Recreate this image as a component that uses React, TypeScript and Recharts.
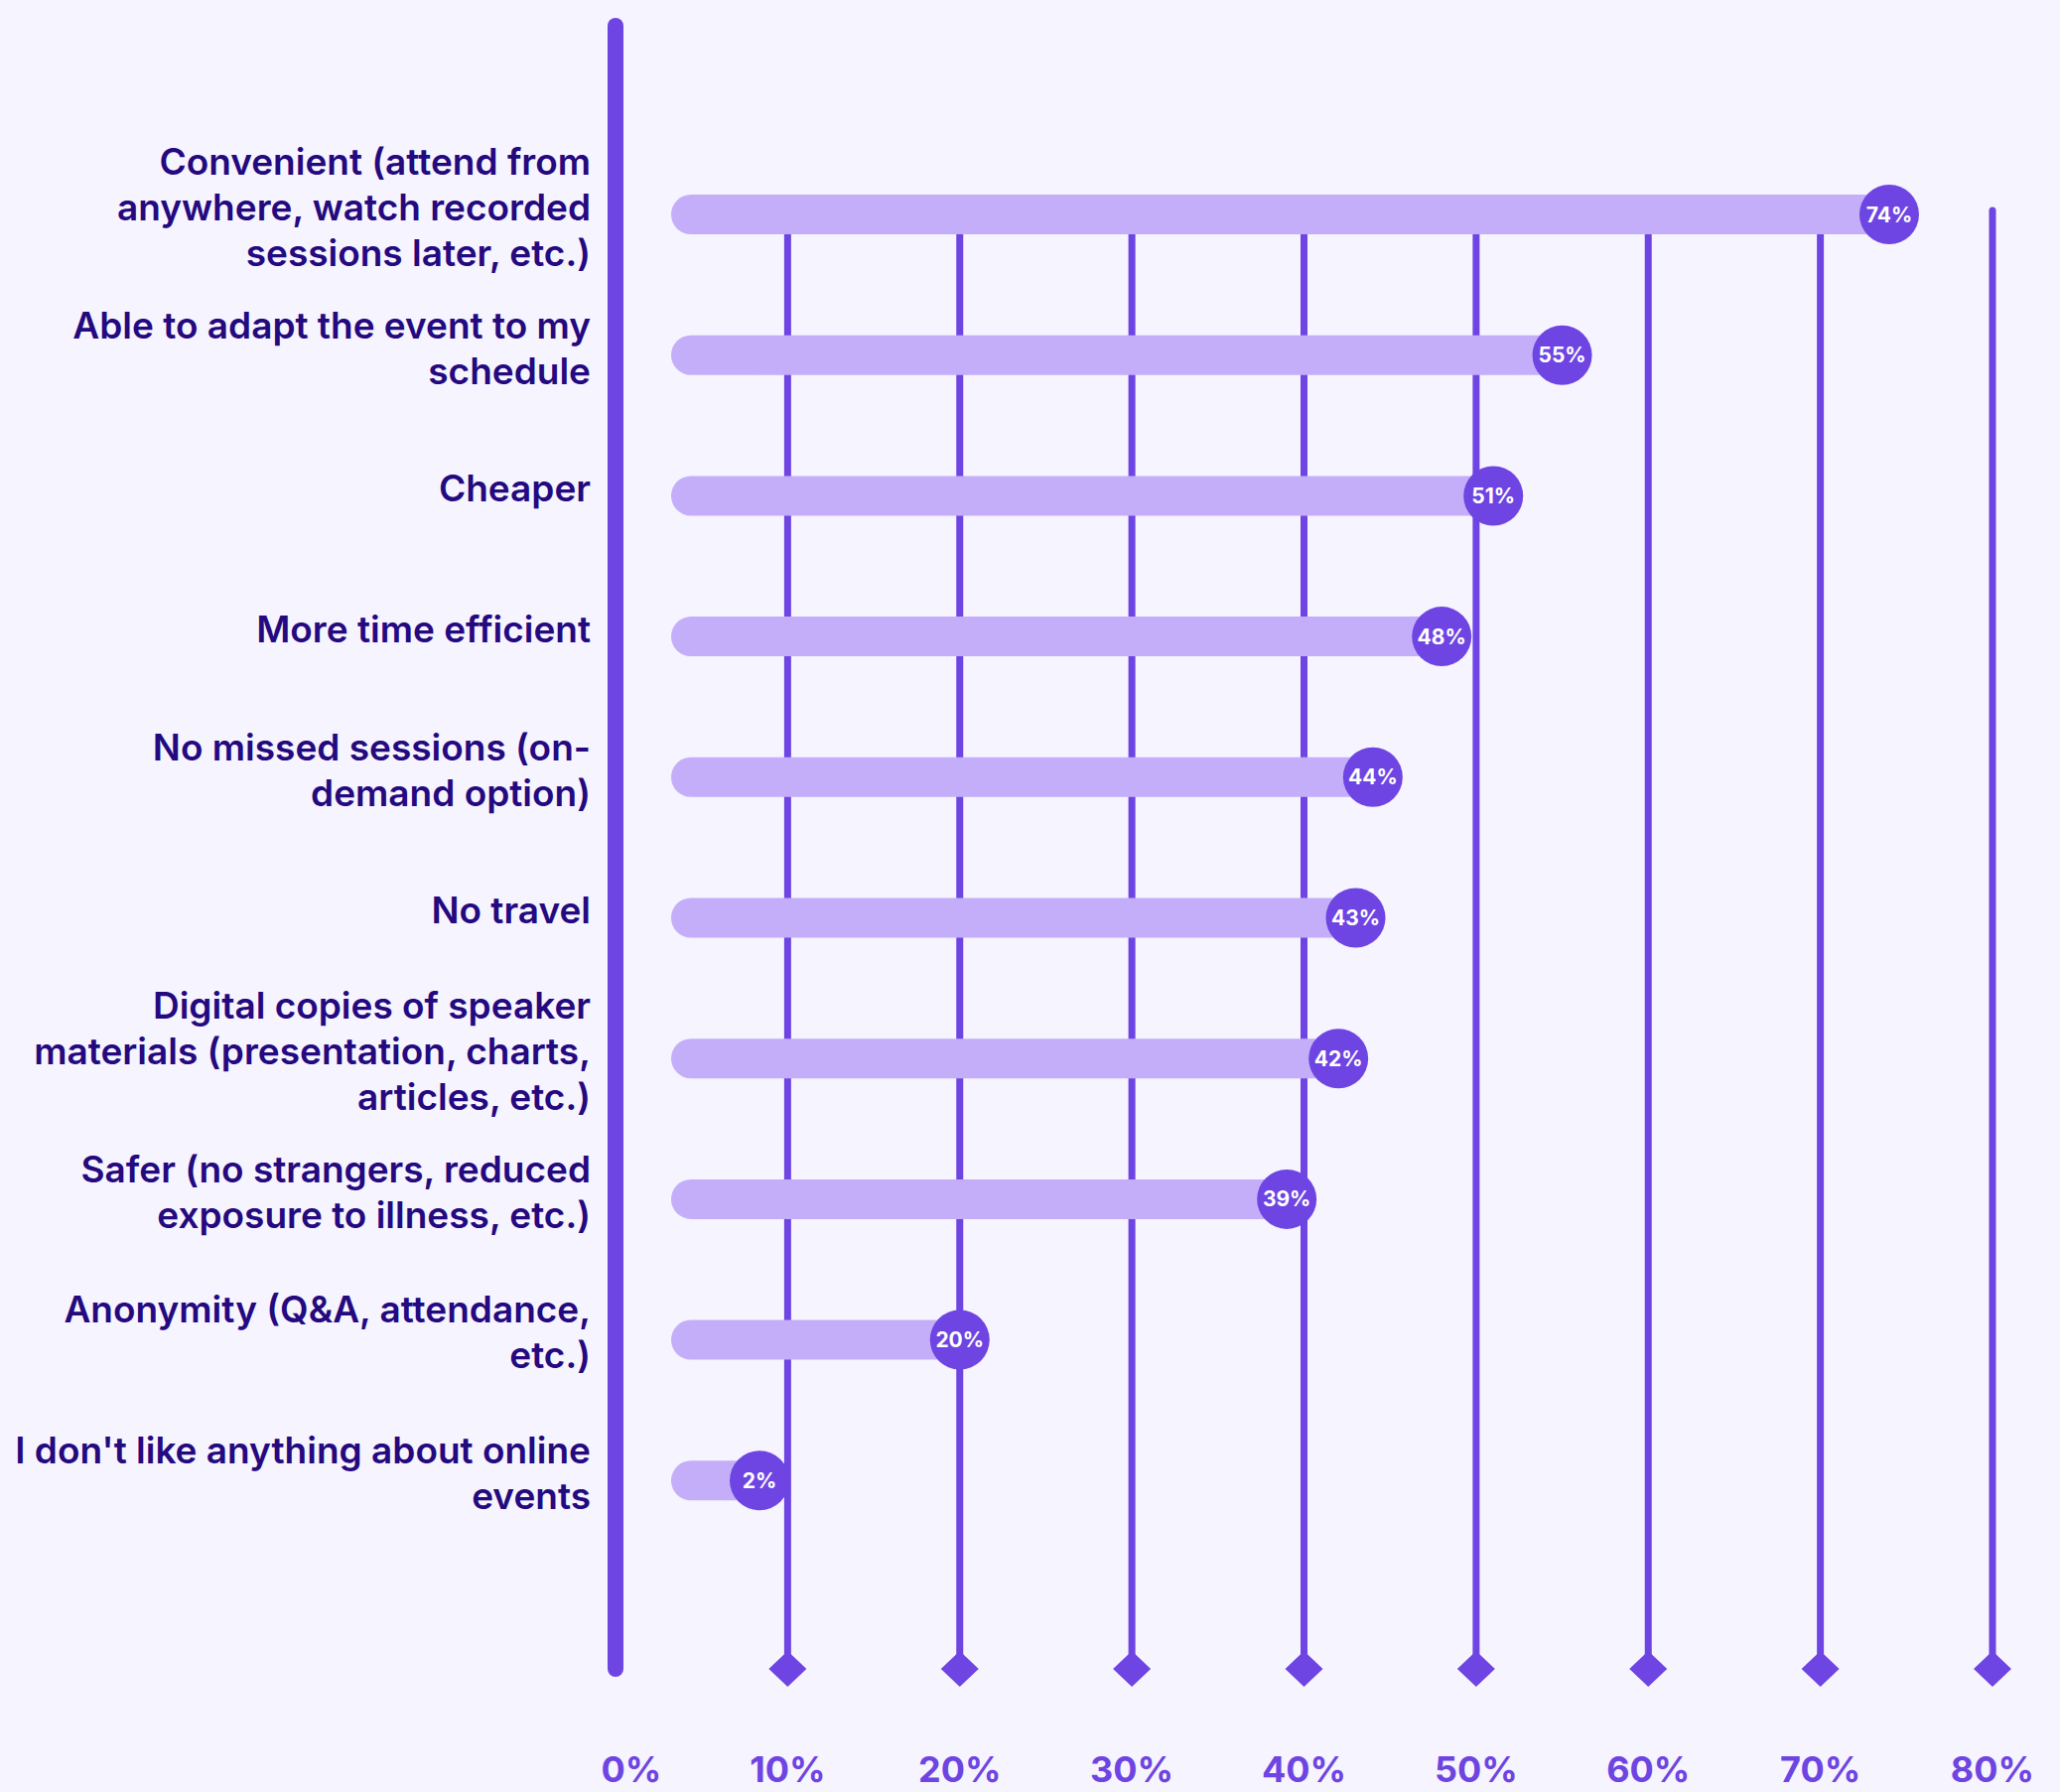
import { BarChart, Bar, XAxis, YAxis, CartesianGrid } from 'recharts'

const categories = [
  'Convenient (attend from\nanywhere, watch recorded\nsessions later, etc.)',
  'Able to adapt the event to my\nschedule',
  'Cheaper',
  'More time efficient',
  'No missed sessions (on-\ndemand option)',
  'No travel',
  'Digital copies of speaker\nmaterials (presentation, charts,\narticles, etc.)',
  'Safer (no strangers, reduced\nexposure to illness, etc.)',
  'Anonymity (Q&A, attendance,\netc.)',
  "I don't like anything about online\nevents",
]
const values = [74, 55, 51, 48, 44, 43, 42, 39, 20, 2]
const xTicks = [0, 10, 20, 30, 40, 50, 60, 70, 80]
const rowTicks = categories.map((_, i) => i)

const data = categories.map((label, idx) => ({ idx, label, value: values[idx] }))

const PURPLE = '#6E44E2'
const LIGHT = '#C4AEFA'
const NAVY = '#24097F'
const BG = '#F6F4FF'
const FONT = 'Inter, "Noto Sans", sans-serif'

function CategoryTick(props: any) {
  const { x, y, payload } = props
  const lines = categories[payload.value].split('\n')
  const lh = 46
  const top = y - 8 - ((lines.length - 1) * lh) / 2
  return (
    <text textAnchor="end" fill={NAVY} fontSize={37} fontWeight={600} fontFamily={FONT} dominantBaseline="central">
      {lines.map((l, i) => (
        <tspan key={i} x={x} y={top + i * lh}>{l}</tspan>
      ))}
    </text>
  )
}

function PercentTick(props: any) {
  const { x, y, payload, index } = props
  // the 0% label sits a little right of the axis line
  const dx = index === 0 ? 16 : 0
  return (
    <text x={x + dx} y={y} textAnchor="middle" fill={PURPLE} fontSize={36} fontWeight={700} fontFamily={FONT}>
      {payload.value}%
    </text>
  )
}

// vertical grid line that stops short of the top and ends in a diamond
function GridLine(props: any) {
  const { x1, y1, y2, index } = props
  if (index === 0) return <g />
  const top = y1 + 186
  return (
    <g>
      <line x1={x1} x2={x1} y1={top} y2={y2} stroke={PURPLE} strokeWidth={7} strokeLinecap="round" />
      <polygon
        points={`${x1},${y2 - 18} ${x1 + 19},${y2} ${x1},${y2 + 18} ${x1 - 19},${y2}`}
        fill={PURPLE}
      />
    </g>
  )
}

function PillBar(props: any) {
  const { x, y, width, height, payload } = props
  const start = x + 56
  const cx = Math.max(x + width, x + 145)
  const cy = y + height / 2
  return (
    <g>
      <rect x={start} y={y} width={cx - start} height={height} rx={height / 2} fill={LIGHT} />
      <circle cx={cx} cy={cy} r={30} fill={PURPLE} />
      <text x={cx} y={cy} textAnchor="middle" dominantBaseline="central" fill="#fff" fontSize={21} fontWeight={700} fontFamily={FONT}>
        {payload.value}%
      </text>
    </g>
  )
}

export default function App() {
  return (
    <div style={{ position: 'absolute', left: 0, top: 0, width: 2075, height: 1805, background: BG }}>
      <BarChart
        width={2075}
        height={1805}
        data={data}
        layout="vertical"
        margin={{ top: 26, right: 68, bottom: 0, left: 0 }}
      >
        <CartesianGrid horizontal={false} vertical={GridLine} />
        <XAxis
          type="number"
          domain={[0, 80]}
          ticks={xTicks}
          interval={0}
          axisLine={false}
          tickLine={false}
          tickSize={0}
          tickMargin={114}
          height={124}
          tick={<PercentTick />}
        />
        <YAxis
          type="number"
          dataKey="idx"
          domain={[-1.34, 10.34]}
          allowDataOverflow
          ticks={rowTicks}
          interval={0}
          width={620}
          tickSize={0}
          tickMargin={25}
          tickLine={false}
          axisLine={{ stroke: PURPLE, strokeWidth: 16, strokeLinecap: 'round' }}
          tick={<CategoryTick />}
        />
        <Bar dataKey="value" barSize={40} shape={<PillBar />} isAnimationActive={false} />
      </BarChart>
    </div>
  )
}
